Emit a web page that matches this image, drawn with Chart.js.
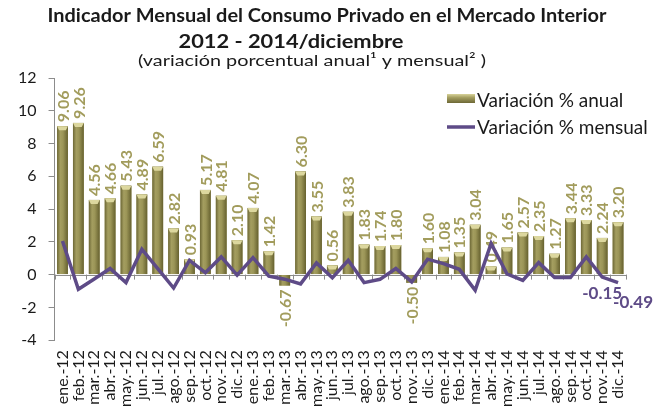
<!DOCTYPE html>
<html>
<head>
<meta charset="utf-8">
<script src="https://cdn.jsdelivr.net/npm/chart.js@4.4.0/dist/chart.umd.min.js"></script>
<style>
  html, body { margin: 0; padding: 0; background: #fff; }
  #wrap { width: 660px; height: 413px; }
</style>
</head>
<body>
<div id="wrap"><canvas id="grafico" width="660" height="413"></canvas></div>
<script>
const meses = [
  "ene.-12", "feb.-12", "mar.-12", "abr.-12", "may.-12", "jun.-12",
  "jul.-12", "ago.-12", "sep.-12", "oct.-12", "nov.-12", "dic.-12",
  "ene.-13", "feb.-13", "mar.-13", "abr.-13", "may.-13", "jun.-13",
  "jul.-13", "ago.-13", "sep.-13", "oct.-13", "nov.-13", "dic.-13",
  "ene.-14", "feb.-14", "mar.-14", "abr.-14", "may.-14", "jun.-14",
  "jul.-14", "ago.-14", "sep.-14", "oct.-14", "nov.-14", "dic.-14"
];

// variacion % anual (barras)
const anual = [
  9.06, 9.26, 4.56, 4.66, 5.43, 4.89, 6.59, 2.82, 0.93, 5.17, 4.81, 2.10,
  4.07, 1.42, -0.67, 6.30, 3.55, 0.56, 3.83, 1.83, 1.74, 1.80, -0.50, 1.60,
  1.08, 1.35, 3.04, 0.49, 1.65, 2.57, 2.35, 1.27, 3.44, 3.33, 2.24, 3.20
];

// variacion % mensual (linea)
const mensual = [
  2.05, -0.90, -0.27, 0.37, -0.49, 1.55, 0.37, -0.82, 0.87, 0.12, 1.08, -0.03,
  1.04, -0.10, -0.28, -0.57, 0.71, -0.20, 0.87, -0.49, -0.29, 0.37, -0.45, 0.94,
  0.67, 0.32, -0.96, 1.90, 0.05, -0.35, 0.73, -0.18, -0.18, 1.08, -0.15, -0.49
];

const yTicks = { min: -4, max: 12, step: 2 };

const titulo1 = "Indicador Mensual del Consumo Privado en el Mercado Interior";
const titulo2 = "2012 - 2014/diciembre";
const titulo3 = "(variación porcentual anual¹ y mensual² )";
const leyenda = ["Variación % anual", "Variación % mensual"];

const oliva = "#a29c5c";
const morado = "#5e4b87";
const fuente = "Lato";

// texto centrado en cx y estirado al ancho del original
function textoAncho(ctx, txt, cx, cy, ancho) {
  const w = ctx.measureText(txt).width;
  ctx.save();
  ctx.translate(cx, cy);
  ctx.scale(ancho / w, 1);
  ctx.fillText(txt, 0, 0);
  ctx.restore();
}

const estiloBarras = {
  id: "estiloBarras",
  beforeDatasetsDraw(chart) {
    const ctx = chart.ctx;
    const y0 = chart.scales.y.getPixelForValue(0);
    const area = chart.chartArea;
    ctx.save();
    ctx.strokeStyle = "#8c8c8c";
    ctx.lineWidth = 1;
    ctx.beginPath();
    ctx.moveTo(area.left, Math.round(y0) + 0.5);
    ctx.lineTo(area.right, Math.round(y0) + 0.5);
    const paso = (area.right - area.left) / meses.length;
    for (let i = 0; i <= meses.length; i++) {
      const xx = Math.round(area.left + paso * i) + 0.5;
      ctx.moveTo(xx, y0);
      ctx.lineTo(xx, y0 + 5);
    }
    ctx.stroke();
    ctx.restore();
  },
  afterDatasetDraw(chart, args) {
    if (args.index !== 0) return;
    const ctx = chart.ctx;
    ctx.save();
    args.meta.data.forEach((bar, i) => {
      const p = bar.getProps(["x", "y", "base", "width"], true);
      const left = p.x - p.width / 2;
      const top = Math.min(p.y, p.base);
      const h = Math.abs(p.base - p.y);
      const g = ctx.createLinearGradient(left, 0, left + p.width, 0);
      g.addColorStop(0, "#6d6836");
      g.addColorStop(0.3, "#a49e60");
      g.addColorStop(0.55, "#9b9557");
      g.addColorStop(1, "#66612f");
      ctx.fillStyle = g;
      ctx.fillRect(left, top, p.width, h);
      if (anual[i] > 0) {
        ctx.fillStyle = "#dcd79e";
        ctx.beginPath();
        ctx.moveTo(left, p.y);
        ctx.lineTo(left + p.width, p.y);
        ctx.lineTo(left + p.width - 2, p.y + 4);
        ctx.lineTo(left + 2, p.y + 4);
        ctx.closePath();
        ctx.fill();
      }
      // etiqueta vertical
      ctx.save();
      ctx.fillStyle = oliva;
      ctx.font = "bold 16px " + fuente;
      ctx.textBaseline = "middle";
      ctx.translate(p.x, anual[i] >= 0 ? p.y - 4 : p.y + 4);
      ctx.rotate(-Math.PI / 2);
      ctx.textAlign = anual[i] >= 0 ? "left" : "right";
      ctx.fillText(anual[i].toFixed(2), 0, 1);
      ctx.restore();
    });
    ctx.restore();
  },
  afterDatasetsDraw(chart) {
    const ctx = chart.ctx;
    const meta = chart.getDatasetMeta(1);
    ctx.save();
    ctx.fillStyle = morado;
    ctx.font = "bold 17px " + fuente;
    ctx.textAlign = "center";
    ctx.textBaseline = "middle";
    const a = meta.data[34];
    ctx.fillText(mensual[34].toFixed(2), a.x, a.y + 16);
    const b = meta.data[35];
    ctx.fillText(mensual[35].toFixed(2), b.x + 15, b.y + 20);
    ctx.restore();
  },
  afterDraw(chart) {
    const ctx = chart.ctx;
    ctx.save();
    ctx.fillStyle = "#1a1a1a";
    ctx.textAlign = "center";
    ctx.textBaseline = "middle";
    ctx.font = "bold 18px " + fuente;
    textoAncho(ctx, titulo1, 327, 16, 559);
    ctx.font = "bold 19px " + fuente;
    textoAncho(ctx, titulo2, 291, 42, 225);
    ctx.font = "16px " + fuente;
    textoAncho(ctx, titulo3, 312, 61, 348);
    // leyenda
    ctx.textAlign = "left";
    ctx.font = "19px " + fuente;
    const g = ctx.createLinearGradient(0, 94, 0, 103);
    g.addColorStop(0, "#d8d39a");
    g.addColorStop(0.4, "#a49e60");
    g.addColorStop(1, "#6d6836");
    ctx.fillStyle = g;
    ctx.fillRect(447, 94, 28, 9);
    ctx.fillStyle = "#1a1a1a";
    ctx.fillText(leyenda[0], 477, 101);
    ctx.strokeStyle = morado;
    ctx.lineWidth = 3.5;
    ctx.beginPath();
    ctx.moveTo(447, 127);
    ctx.lineTo(475, 127);
    ctx.stroke();
    ctx.fillText(leyenda[1], 477, 128);
    ctx.restore();
  }
};

const ctx = document.getElementById("grafico");

new Chart(ctx, {
  type: "bar",
  data: {
    labels: meses,
    datasets: [
      {
        label: leyenda[0],
        data: anual,
        backgroundColor: "#9b9557",
        categoryPercentage: 1,
        barPercentage: 0.68,
        order: 1
      },
      {
        type: "line",
        label: leyenda[1],
        data: mensual,
        borderColor: morado,
        borderWidth: 3.5,
        pointRadius: 0,
        tension: 0,
        borderJoinStyle: "miter",
        order: 0
      }
    ]
  },
  options: {
    responsive: false,
    animation: false,
    layout: { padding: { left: 6, right: 34, top: 78, bottom: 4 } },
    plugins: {
      legend: { display: false },
      title: { display: false },
      tooltip: { enabled: false }
    },
    scales: {
      x: {
        grid: { display: false },
        border: { display: false },
        ticks: {
          autoSkip: false,
          minRotation: 90,
          maxRotation: 90,
          padding: 2,
          color: "#1a1a1a",
          font: { family: fuente, size: 16 }
        }
      },
      y: {
        min: yTicks.min,
        max: yTicks.max,
        grid: { drawOnChartArea: false, drawTicks: true, tickLength: 6, color: "#8c8c8c" },
        border: { display: true, color: "#8c8c8c" },
        ticks: {
          stepSize: yTicks.step,
          padding: 12,
          color: "#1a1a1a",
          font: { family: fuente, size: 16 }
        }
      }
    }
  },
  plugins: [estiloBarras]
});
</script>
</body>
</html>
